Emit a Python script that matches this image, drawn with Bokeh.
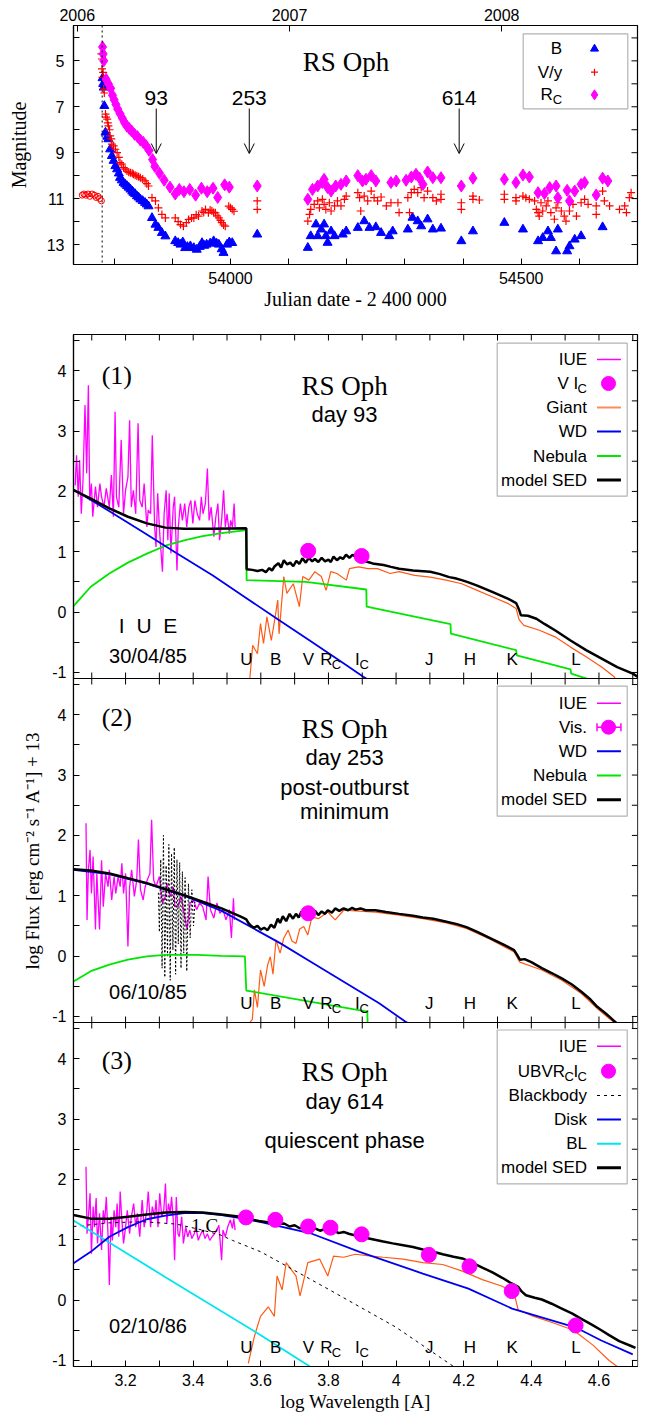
from bokeh.plotting import figure
from bokeh.layouts import column
from bokeh.models import (Range1d, LinearAxis, FixedTicker, PrintfTickFormatter, CustomJSTickFormatter, Span,
                          Label, Arrow, OpenHead, BoxAnnotation, Whisker, TeeHead, ColumnDataSource)
from bokeh.embed import file_html
from bokeh.resources import INLINE

SANS = "Liberation Sans"
SERIF = "Liberation Serif"
MAG = "#ff00ff"
ORANGE = "#ff5a14"
BLUE = "#0000f0"
GREEN = "#00e600"
CYAN = "#00e5ee"

# ------------------------------------------------------------------ light curve
T0 = 53779.3                      # outburst, JD - 2400000
ARROW_DAYS = [93, 253, 614]
YEARS = [2006, 2007, 2008]
YEAR0_JD = 53736.5                # 2006 Jan 1
V_PRE = [(53745, 10.85), (53748, 10.8), (53751, 10.85), (53755, 10.8), (53758, 10.9), (53762, 10.8),
         (53766, 10.85), (53769, 10.95), (53772, 10.9), (53775, 11.0), (53778, 11.1)]
B_LC = [(53780, 5.75), (53781, 6.0), (53782, 6.16), (53783, 6.96), (53785, 8.12), (53788, 8.3), (53790, 8.41),
        (53793, 8.85), (53796, 9.14), (53799, 9.35), (53802, 9.58), (53805, 9.72), (53808, 9.9), (53810, 10.09),
        (53813, 10.2), (53816, 10.31), (53819, 10.38), (53822, 10.45), (53825, 10.52), (53828, 10.6),
        (53831, 10.68), (53833, 10.74), (53836, 10.8), (53839, 10.89), (53842, 10.95), (53845, 11.03),
        (53849, 11.1), (53853, 11.18), (53856, 11.25), (53859, 11.33), (53865, 11.84), (53871, 12.13),
        (53876, 12.27), (53882, 12.49), (53888, 12.64), (53905, 12.85), (53910, 12.93), (53914, 13.0),
        (53918, 12.9), (53922, 13.15), (53926, 13.1), (53931, 13.07), (53937, 13.15), (53942, 13.22),
        (53947, 13.1), (53951, 12.93), (53955, 13.05), (53959, 13.0), (53965, 12.95), (53971, 12.85),
        (53976, 12.95), (53980, 13.0), (53985, 13.2), (53988, 13.36), (53994, 13.0), (53998, 12.9),
        (54003, 12.93), (54046, 12.56),
        (54133, 13.14), (54138, 12.63), (54147, 12.12), (54150, 12.63), (54156, 12.34), (54161, 12.12),
        (54164, 12.63), (54167, 12.92), (54173, 12.42), (54179, 12.63), (54193, 12.56), (54199, 12.42),
        (54219, 12.27), (54230, 11.98), (54239, 12.27), (54250, 12.24), (54259, 12.49), (54273, 12.63),
        (54279, 12.42), (54305, 12.34), (54313, 11.83), (54322, 11.98), (54328, 12.2), (54339, 11.9),
        (54348, 12.34), (54362, 12.3), (54397, 12.85), (54417, 12.42), (54471, 12.05), (54503, 12.34),
        (54529, 12.85), (54537, 12.71), (54546, 12.42), (54551, 12.71), (54560, 13.29), (54563, 12.34),
        (54579, 13.29), (54583, 13.07), (54592, 12.78), (54603, 12.63), (54640, 12.24)]
V_LC = [(53778, 4.7), (53779, 4.92), (53779, 5.35), (53780, 5.72), (53781, 5.5), (53782, 6.23), (53783, 6.4),
        (53785, 7.32), (53786, 7.45), (53788, 7.54), (53789, 7.7), (53790, 7.83), (53792, 8.0), (53793, 8.27),
        (53795, 8.4), (53796, 8.63), (53799, 8.7), (53802, 8.85), (53805, 9.0), (53808, 9.2), (53810, 9.43),
        (53813, 9.5), (53816, 9.65), (53819, 9.72), (53822, 9.8), (53825, 9.85), (53828, 9.87), (53831, 9.9),
        (53833, 9.94), (53836, 9.98), (53839, 10.01), (53842, 10.05), (53845, 10.09), (53849, 10.15),
        (53853, 10.23), (53856, 10.35), (53859, 10.45), (53865, 10.96), (53871, 11.1), (53876, 11.4),
        (53882, 11.69), (53888, 11.84), (53905, 11.84), (53910, 12.0), (53914, 12.13), (53919, 12.2),
        (53924, 12.05), (53928, 11.91), (53933, 11.85), (53937, 11.84), (53941, 11.7), (53945, 11.76),
        (53951, 11.54), (53954, 11.6), (53957, 11.47), (53962, 11.62), (53965, 11.5), (53968, 11.54),
        (53971, 11.6), (53974, 11.62), (53977, 11.75), (53980, 11.84), (53983, 11.95), (53985, 12.05),
        (53988, 12.15), (53991, 12.2), (53997, 11.33), (54000, 11.4), (54003, 11.47), (54006, 11.55),
        (54046, 11.1), (54046, 11.47),
        (54133, 11.98), (54136, 11.69), (54138, 11.47), (54144, 11.25), (54150, 11.1), (54153, 11.4),
        (54158, 11.03), (54161, 11.25), (54164, 11.47), (54170, 11.18), (54173, 11.54), (54179, 11.32),
        (54184, 11.1), (54190, 11.32), (54196, 11.03), (54199, 10.89), (54219, 10.74), (54222, 10.96),
        (54224, 11.54), (54230, 10.89), (54236, 11.1), (54242, 10.67), (54247, 10.96), (54253, 11.1),
        (54259, 10.93), (54268, 11.32), (54276, 11.18), (54288, 11.18), (54290, 11.61), (54305, 10.96),
        (54308, 11.61), (54311, 10.74), (54316, 10.6), (54322, 10.74), (54328, 10.52), (54333, 10.96),
        (54339, 10.67), (54348, 10.96), (54354, 11.1), (54362, 10.81), (54362, 11.03), (54397, 11.18),
        (54397, 11.47), (54417, 10.89), (54417, 11.03), (54428, 11.06), (54471, 10.81), (54471, 11.03),
        (54491, 10.96), (54491, 11.1), (54503, 10.89), (54508, 10.96), (54514, 11.03), (54523, 11.1),
        (54526, 11.47), (54529, 11.61), (54531, 11.76), (54534, 11.18), (54537, 11.54), (54543, 11.32),
        (54546, 11.1), (54551, 11.61), (54557, 11.9), (54560, 11.4), (54563, 11.18), (54569, 11.54),
        (54574, 11.76), (54577, 11.98), (54583, 11.54), (54589, 11.25), (54595, 11.76), (54603, 11.18),
        (54609, 11.03), (54615, 11.25), (54629, 11.32), (54629, 11.69), (54640, 10.67), (54643, 11.1),
        (54652, 11.32), (54669, 11.47), (54678, 11.32), (54681, 11.61), (54686, 10.96), (54689, 10.74)]
R_LC = [(53780, 4.4), (53781, 4.7), (53782, 5.0), (53786, 5.8), (53790, 6.0), (53794, 6.2), (53797, 6.5),
        (53800, 6.7), (53803, 6.9), (53806, 7.1), (53810, 7.3), (53814, 7.5), (53818, 7.7), (53822, 7.85),
        (53826, 7.95), (53830, 8.05), (53835, 8.2), (53840, 8.3), (53845, 8.45), (53850, 8.55), (53855, 8.7),
        (53860, 8.9), (53866, 9.3), (53870, 9.6), (53878, 9.9), (53886, 10.2), (53896, 10.5), (53905, 10.8),
        (53912, 10.6), (53920, 10.7), (53930, 10.6), (53940, 10.85), (53950, 10.55), (53960, 10.7),
        (53970, 10.55), (53978, 10.95), (53990, 10.4), (53998, 10.5), (54046, 10.45),
        (54133, 11.03), (54141, 10.6), (54150, 10.45), (54158, 10.3), (54161, 10.16), (54167, 10.52),
        (54173, 10.67), (54181, 10.45), (54190, 10.38), (54199, 10.23), (54219, 10.0), (54227, 10.23),
        (54233, 10.16), (54242, 10.0), (54250, 10.23), (54276, 10.3), (54285, 10.23), (54302, 10.2),
        (54311, 10.06), (54319, 9.94), (54325, 10.1), (54331, 10.38), (54339, 9.84), (54348, 10.09),
        (54362, 10.09), (54397, 10.45), (54417, 10.11), (54471, 10.16), (54491, 10.3), (54503, 9.97),
        (54514, 10.06), (54529, 10.74), (54540, 10.78), (54549, 10.52), (54560, 10.45), (54563, 10.96),
        (54579, 10.64), (54583, 11.1), (54592, 10.67), (54603, 10.38), (54609, 10.3), (54629, 10.84),
        (54640, 10.11), (54649, 10.23)]

# ------------------------------------------------------------------ SED data (log lambda, log F + 13)
IUE1 = [(3.051, 2.1), (3.055, 2.6), (3.060, 1.91), (3.064, 2.52), (3.069, 1.63), (3.074, 2.16), (3.080, 3.43),
        (3.085, 2.3), (3.090, 3.76), (3.094, 1.85), (3.099, 2.13), (3.103, 1.58), (3.111, 2.08), (3.117, 1.74),
        (3.124, 2.13), (3.129, 1.91), (3.136, 1.74), (3.143, 2.05), (3.152, 1.74), (3.158, 2.27), (3.164, 1.58),
        (3.169, 3.32), (3.173, 1.91), (3.180, 1.74), (3.187, 2.85), (3.194, 1.63), (3.200, 2.02), (3.207, 2.24),
        (3.212, 3.18), (3.217, 1.74), (3.223, 2.02), (3.230, 1.63), (3.237, 3.13), (3.242, 1.85), (3.249, 1.74),
        (3.255, 2.13), (3.263, 1.41), (3.267, 1.69), (3.274, 1.63), (3.279, 2.93), (3.286, 1.41), (3.290, 1.08),
        (3.295, 1.97), (3.301, 1.30), (3.309, 0.67), (3.314, 1.63), (3.320, 2.02), (3.325, 1.19), (3.329, 1.97),
        (3.334, 0.97), (3.341, 1.74), (3.345, 1.91), (3.352, 0.69), (3.356, 1.41), (3.362, 1.80), (3.368, 1.52),
        (3.375, 1.80), (3.381, 1.41), (3.387, 1.74), (3.393, 1.85), (3.399, 1.47), (3.405, 1.85), (3.412, 1.63),
        (3.419, 1.52), (3.424, 1.91), (3.429, 1.63), (3.436, 1.80), (3.442, 2.38), (3.447, 1.52), (3.453, 1.74),
        (3.461, 1.25), (3.467, 1.58), (3.473, 1.80), (3.478, 1.19), (3.484, 1.52), (3.490, 2.02), (3.495, 1.41),
        (3.500, 1.63), (3.507, 1.30), (3.511, 1.52), (3.516, 1.41), (3.521, 1.80), (3.524, 1.41)]
SED1 = [(3.046, 2.02), (3.097, 1.88), (3.152, 1.72), (3.207, 1.58), (3.263, 1.47), (3.318, 1.40), (3.373, 1.38),
        (3.456, 1.38), (3.557, 1.39), (3.558, 0.71), (3.575, 0.70), (3.590, 0.68), (3.604, 0.70), (3.615, 0.66),
        (3.625, 0.73), (3.633, 0.69), (3.641, 0.76), (3.652, 0.81), (3.660, 0.74), (3.668, 0.86), (3.678, 0.79),
        (3.687, 0.82), (3.696, 0.76), (3.705, 0.85), (3.714, 0.80), (3.723, 0.89), (3.733, 0.82), (3.742, 0.90),
        (3.752, 0.84), (3.760, 0.88), (3.770, 0.83), (3.780, 0.90), (3.790, 0.84), (3.800, 0.87), (3.807, 0.83),
        (3.815, 0.92), (3.825, 0.86), (3.835, 0.91), (3.843, 0.88), (3.852, 0.95), (3.862, 0.90), (3.871, 0.95),
        (3.880, 0.92), (3.890, 0.87), (3.900, 0.86), (3.917, 0.83), (3.935, 0.80), (3.963, 0.78), (3.985, 0.75),
        (4.009, 0.72), (4.050, 0.69), (4.101, 0.67), (4.130, 0.63), (4.157, 0.58), (4.175, 0.56), (4.194, 0.53),
        (4.210, 0.50), (4.240, 0.44), (4.286, 0.33), (4.332, 0.22), (4.355, 0.15), (4.360, 0.09), (4.365, 0.02),
        (4.369, -0.05), (4.390, -0.06), (4.415, -0.11), (4.440, -0.20), (4.470, -0.30), (4.516, -0.47),
        (4.562, -0.63), (4.608, -0.77), (4.654, -0.91), (4.700, -1.02), (4.714, -1.07)]
GIANT1 = [(3.560, -1.3), (3.567, -1.13), (3.576, -0.55), (3.590, -0.69), (3.599, -0.19), (3.608, -0.52),
          (3.618, -0.08), (3.631, -0.47), (3.641, -0.13), (3.650, 0.20), (3.654, -0.36), (3.668, 0.59),
          (3.677, 0.31), (3.696, 0.47), (3.714, 0.09), (3.724, 0.59), (3.742, 0.53), (3.760, 0.67),
          (3.779, 0.59), (3.793, 0.36), (3.807, 0.67), (3.825, 0.64), (3.853, 0.53), (3.862, 0.72),
          (3.889, 0.75), (3.917, 0.72), (3.945, 0.72), (3.982, 0.64), (4.009, 0.67), (4.055, 0.61),
          (4.101, 0.58), (4.148, 0.53), (4.194, 0.47), (4.240, 0.36), (4.286, 0.25), (4.332, 0.14),
          (4.355, 0.06), (4.364, -0.13), (4.378, -0.22), (4.424, -0.30), (4.470, -0.41), (4.516, -0.58),
          (4.562, -0.74), (4.608, -0.91), (4.645, -1.07), (4.654, -1.16)]
WD1 = [(3.046, 2.03), (3.15, 1.68), (3.25, 1.33), (3.35, 0.98), (3.457, 0.61), (3.55, 0.26), (3.65, -0.12),
       (3.75, -0.49), (3.85, -0.87), (3.903, -1.07), (3.912, -1.10)]
NEB1 = [(3.046, 0.10), (3.097, 0.42), (3.152, 0.64), (3.207, 0.82), (3.263, 0.97), (3.318, 1.10), (3.373, 1.19),
        (3.428, 1.26), (3.484, 1.31), (3.557, 1.36), (3.558, 0.53), (3.733, 0.50), (3.912, 0.375), (3.913, 0.09),
        (4.161, -0.20), (4.162, -0.355), (4.355, -0.63), (4.357, -0.715), (4.516, -0.95), (4.518, -1.02),
        (4.58, -1.13)]
PHOT1_LW = [3.740, 3.898]
PHOT1_F = [1.015, 0.93]

IUE2 = [(3.083, 2.20), (3.086, 0.60), (3.090, 1.43), (3.095, 1.76), (3.099, 1.04), (3.104, 1.65), (3.111, 0.44),
        (3.115, 1.37), (3.123, 0.44), (3.129, 1.59), (3.134, 0.82), (3.141, 1.37), (3.148, 1.15), (3.152, 1.43),
        (3.159, 0.93), (3.166, 1.32), (3.171, 1.04), (3.178, 1.32), (3.184, 1.15), (3.189, 1.54), (3.194, 1.04),
        (3.200, 1.37), (3.207, 0.16), (3.212, 1.15), (3.218, 1.43), (3.226, 0.99), (3.233, 1.26), (3.238, 1.93),
        (3.244, 1.10), (3.252, 0.93), (3.258, 1.15), (3.264, 1.26), (3.272, 1.37), (3.277, 2.26), (3.283, 1.26),
        (3.290, 1.15), (3.300, 1.32), (3.309, 0.88), (3.318, 0.99), (3.322, 1.21), (3.332, 0.99), (3.341, 1.15),
        (3.346, 0.82), (3.355, 0.82), (3.364, 0.99), (3.382, 0.44), (3.391, 0.88), (3.401, 0.93), (3.410, 0.77),
        (3.419, 0.88), (3.428, 0.82), (3.438, 0.60), (3.444, 1.32), (3.451, 0.77), (3.461, 0.63), (3.470, 0.88),
        (3.479, 0.71), (3.488, 0.77), (3.497, 0.60), (3.507, 0.77), (3.513, 0.30), (3.519, 0.96), (3.522, 0.60)]
IUE2B = [(3.297, 1.05), (3.300, 0.40), (3.304, 1.60), (3.308, -0.20), (3.312, 2.00), (3.316, -0.35),
         (3.320, 1.50), (3.324, 0.0), (3.328, 1.85), (3.332, -0.40), (3.336, 1.70), (3.340, 0.10), (3.344, 1.80),
         (3.348, -0.30), (3.352, 1.60), (3.356, 0.20), (3.360, 1.55), (3.364, -0.20), (3.368, 1.40),
         (3.372, 0.05), (3.376, 1.30), (3.381, -0.25), (3.386, 1.20), (3.391, 0.30), (3.396, 1.10),
         (3.401, 0.50), (3.405, 0.90)]
SED2 = [(3.046, 1.44), (3.097, 1.42), (3.152, 1.37), (3.207, 1.29), (3.263, 1.21), (3.318, 1.11), (3.373, 1.01),
        (3.428, 0.90), (3.484, 0.79), (3.539, 0.66), (3.550, 0.63), (3.557, 0.61), (3.563, 0.55), (3.571, 0.50),
        (3.580, 0.47), (3.590, 0.50), (3.600, 0.44), (3.610, 0.47), (3.620, 0.43), (3.630, 0.52), (3.640, 0.47),
        (3.650, 0.62), (3.657, 0.55), (3.665, 0.66), (3.675, 0.58), (3.685, 0.70), (3.695, 0.62), (3.704, 0.70),
        (3.712, 0.64), (3.720, 0.74), (3.730, 0.66), (3.740, 0.72), (3.751, 0.69), (3.760, 0.75), (3.770, 0.68),
        (3.780, 0.74), (3.790, 0.70), (3.798, 0.76), (3.810, 0.72), (3.820, 0.79), (3.832, 0.75), (3.845, 0.79),
        (3.858, 0.76), (3.870, 0.80), (3.880, 0.77), (3.895, 0.79), (3.910, 0.76), (3.939, 0.76), (3.970, 0.73),
        (4.009, 0.70), (4.050, 0.67), (4.079, 0.64), (4.110, 0.62), (4.149, 0.57), (4.180, 0.53), (4.208, 0.48),
        (4.240, 0.40), (4.278, 0.30), (4.315, 0.20), (4.349, 0.10), (4.358, 0.02), (4.366, -0.06), (4.380, -0.05),
        (4.400, -0.10), (4.431, -0.20), (4.460, -0.28), (4.490, -0.37), (4.520, -0.47), (4.548, -0.59),
        (4.575, -0.72), (4.595, -0.84), (4.620, -0.95), (4.642, -1.06), (4.660, -1.15)]
GIANT2 = [(3.560, -1.15), (3.575, -1.05), (3.581, -0.56), (3.590, -0.85), (3.599, -0.23), (3.610, -0.50),
          (3.620, -0.15), (3.628, -0.01), (3.636, -0.30), (3.645, 0.27), (3.657, 0.05), (3.668, 0.30),
          (3.681, 0.43), (3.692, 0.25), (3.704, 0.21), (3.715, 0.45), (3.727, 0.49), (3.739, 0.35),
          (3.751, 0.65), (3.770, 0.62), (3.798, 0.73), (3.820, 0.60), (3.845, 0.76), (3.880, 0.75),
          (3.939, 0.73), (4.009, 0.68), (4.079, 0.62), (4.149, 0.55), (4.208, 0.46), (4.278, 0.28),
          (4.349, 0.07), (4.366, -0.10), (4.431, -0.23), (4.490, -0.40), (4.548, -0.62), (4.595, -0.87),
          (4.642, -1.09)]
WD2 = [(3.046, 1.43), (3.152, 1.36), (3.263, 1.20), (3.373, 1.00), (3.484, 0.75), (3.594, 0.41), (3.657, 0.215),
       (3.75, -0.10), (3.85, -0.44), (3.95, -0.78), (4.026, -1.08), (4.035, -1.11)]
NEB2 = [(3.046, -0.42), (3.097, -0.25), (3.152, -0.14), (3.207, -0.06), (3.263, -0.005), (3.318, 0.02),
        (3.41, 0.02), (3.484, 0.005), (3.553, -0.005), (3.557, -0.57), (3.915, -0.92), (3.916, -1.15)]
VIS2_LW = [3.740]
VIS2_F = [0.71]
VIS2_ERR = [0.19]

IUE3 = [(3.083, 2.21), (3.086, 1.10), (3.090, 1.38), (3.095, 1.77), (3.099, 0.77), (3.104, 1.55), (3.108, 1.21),
        (3.113, 1.69), (3.117, 0.94), (3.123, 1.44), (3.129, 0.83), (3.134, 1.49), (3.138, 1.27), (3.143, 1.71),
        (3.148, 1.10), (3.152, 0.25), (3.157, 1.38), (3.161, 0.99), (3.166, 1.49), (3.171, 1.21), (3.175, 1.60),
        (3.180, 1.05), (3.184, 1.80), (3.189, 1.33), (3.194, 0.94), (3.200, 1.21), (3.205, 1.49), (3.212, 1.10),
        (3.217, 1.38), (3.224, 1.60), (3.230, 1.21), (3.235, 1.44), (3.242, 1.05), (3.249, 1.66), (3.255, 1.21),
        (3.263, 1.49), (3.267, 1.80), (3.274, 1.21), (3.279, 1.55), (3.286, 1.38), (3.290, 1.66), (3.296, 1.21),
        (3.301, 1.77), (3.307, 1.38), (3.313, 1.49), (3.318, 1.93), (3.322, 1.27), (3.327, 1.60), (3.332, 1.44),
        (3.336, 1.71), (3.341, 1.33), (3.345, 0.66), (3.350, 1.71), (3.355, 1.10), (3.359, 1.05), (3.366, 1.38),
        (3.371, 0.94), (3.378, 1.21), (3.384, 1.05), (3.390, 1.16), (3.396, 1.02), (3.403, 1.10), (3.408, 1.21),
        (3.415, 0.99), (3.421, 1.08), (3.428, 1.16), (3.435, 1.02), (3.442, 1.10), (3.449, 0.99), (3.456, 1.05),
        (3.463, 1.10), (3.470, 1.16), (3.476, 1.24), (3.484, 0.66), (3.488, 1.16), (3.495, 1.05), (3.502, 1.21),
        (3.510, 1.33), (3.516, 1.19), (3.520, 1.35), (3.524, 1.16)]
SED3 = [(3.046, 1.41), (3.097, 1.35), (3.152, 1.35), (3.207, 1.38), (3.263, 1.42), (3.318, 1.45), (3.373, 1.46),
        (3.428, 1.45), (3.484, 1.42), (3.539, 1.38), (3.594, 1.31), (3.620, 1.29), (3.640, 1.31), (3.655, 1.26),
        (3.669, 1.27), (3.685, 1.22), (3.700, 1.24), (3.715, 1.19), (3.727, 1.21), (3.745, 1.17), (3.760, 1.19),
        (3.775, 1.15), (3.786, 1.17), (3.800, 1.13), (3.815, 1.16), (3.830, 1.11), (3.845, 1.13), (3.860, 1.10),
        (3.880, 1.07), (3.903, 1.04), (3.930, 1.01), (3.962, 0.97), (3.990, 0.94), (4.021, 0.91), (4.050, 0.88),
        (4.079, 0.84), (4.110, 0.80), (4.138, 0.76), (4.170, 0.72), (4.196, 0.69), (4.225, 0.62), (4.255, 0.54),
        (4.285, 0.46), (4.314, 0.37), (4.340, 0.28), (4.361, 0.22), (4.372, 0.14), (4.384, 0.08), (4.410, 0.04),
        (4.431, 0.01), (4.460, -0.06), (4.490, -0.14), (4.520, -0.22), (4.548, -0.31), (4.580, -0.41),
        (4.607, -0.50), (4.630, -0.58), (4.660, -0.68), (4.695, -0.76), (4.708, -0.79)]
GIANT3 = [(3.563, -1.05), (3.581, -0.6), (3.599, -0.27), (3.622, -0.11), (3.640, -0.27), (3.648, 0.4),
          (3.663, 0.17), (3.675, 0.62), (3.704, 0.4), (3.716, 0.07), (3.739, 0.62), (3.774, 0.68), (3.798, 0.4),
          (3.815, 0.73), (3.845, 0.71), (3.880, 0.76), (3.927, 0.73), (3.962, 0.71), (4.021, 0.68), (4.079, 0.62),
          (4.138, 0.59), (4.196, 0.48), (4.255, 0.34), (4.314, 0.23), (4.349, 0.12), (4.361, -0.16),
          (4.407, -0.27), (4.466, -0.38), (4.525, -0.5), (4.583, -0.75), (4.630, -1.0), (4.654, -1.1)]
DISK3 = [(3.046, 0.61), (3.097, 0.80), (3.152, 1.05), (3.207, 1.21), (3.263, 1.34), (3.318, 1.40), (3.373, 1.44),
         (3.428, 1.44), (3.484, 1.41), (3.539, 1.36), (3.594, 1.30), (3.751, 1.10), (3.892, 0.80), (4.079, 0.44),
         (4.214, 0.19), (4.343, -0.14), (4.530, -0.45), (4.607, -0.67), (4.70, -0.90)]
BB3 = [(3.046, 1.22), (3.15, 1.28), (3.25, 1.30), (3.35, 1.26), (3.42, 1.17), (3.48, 1.08), (3.516, 0.99),
       (3.6, 0.80), (3.8, 0.18), (4.0, -0.45), (4.17, -1.1)]
BL3 = [(3.046, 1.32), (3.318, 0.38), (3.594, -0.56), (3.745, -1.1)]
PHOT3_LW = [3.556, 3.643, 3.740, 3.806, 3.898, 4.097, 4.217, 4.342, 4.531]
PHOT3_F = [1.37, 1.33, 1.22, 1.20, 1.09, 0.75, 0.56, 0.15, -0.42]

BANDS = [("U", ""), ("B", ""), ("V", ""), ("R", "C"), ("I", "C"), ("J", ""), ("H", ""), ("K", ""), ("L", "")]
BAND_LW = [3.556, 3.643, 3.740, 3.806, 3.898, 4.097, 4.217, 4.342, 4.531]

XT_MAJOR = [3.2, 3.4, 3.6, 3.8, 4.0, 4.2, 4.4, 4.6]
XT_MINOR = [3.1, 3.3, 3.5, 3.7, 3.9, 4.1, 4.3, 4.5, 4.7]
YT_MAJOR = [-1, 0, 1, 2, 3, 4]
YT_MINOR = [-0.5, 0.5, 1.5, 2.5, 3.5, 4.5]
MAG_MAJOR = [5, 7, 9, 11, 13]
MAG_MINOR = [4, 6, 8, 10, 12]
JD_MAJOR = [54000, 54500]
JD_MINOR = [53800, 53900, 54100, 54200, 54300, 54400, 54600, 54700]


def xs(pairs):
    return [a for a, b in pairs]


def ys(pairs):
    return [b for a, b in pairs]


# ------------------------------------------------------------------ helpers
class Frame:
    def __init__(self, p, x0, x1, px0, px1, ytop, ybot, py0, py1, rn="default"):
        self.p, self.rn = p, rn
        self.x0, self.x1, self.px0, self.px1 = x0, x1, px0, px1
        self.ytop, self.ybot, self.py0, self.py1 = ytop, ybot, py0, py1

    def x(self, px):
        return self.x0 + (px - self.px0) * (self.x1 - self.x0) / (self.px1 - self.px0)

    def y(self, py):
        return self.ytop + (py - self.py0) * (self.ybot - self.ytop) / (self.py1 - self.py0)

    def px(self, x):
        return self.px0 + (x - self.x0) * (self.px1 - self.px0) / (self.x1 - self.x0)


AW = {'U': 722, 'B': 667, 'V': 667, 'R': 722, 'I': 278, 'C': 722, ' ': 278, '/': 278, 'y': 500,
      'J': 500, 'H': 722, 'K': 667, 'L': 556}


def tw(s, size):
    return sum(AW.get(c, 556) for c in s) * size / 1000.0


def label(fr, px, py, text, size, font=SANS, align="center"):
    fr.p.add_layout(Label(x=fr.x(px), y=fr.y(py), text=text, text_font=font, y_range_name=fr.rn,
                          text_font_size="%dpx" % size, text_align=align,
                          text_baseline="middle", text_color="black"))


def rich(fr, px, py, parts, size=16, sub=12, align="right"):
    """text made of normal and subscript pieces; right-aligned pieces are laid from the right edge"""
    if align == "right":
        x = px
        for t, s in reversed(parts):
            fs = sub if s else size
            label(fr, x, py + (5 if s else 0), t, fs, align="right")
            x -= tw(t, fs)
        return
    total = sum(tw(t, sub if s else size) for t, s in parts)
    x = px - total / 2.0
    for t, s in parts:
        fs = sub if s else size
        label(fr, x, py + (5 if s else 0), t, fs, align="left")
        x += tw(t, fs)


def style_axis(ax, size=16):
    ax.major_tick_in = 6
    ax.major_tick_out = 0
    ax.minor_tick_in = 6
    ax.minor_tick_out = 0
    ax.major_tick_line_color = "black"
    ax.minor_tick_line_color = "black"
    ax.axis_line_color = "black"
    ax.axis_line_width = 1.2
    ax.major_label_text_font = SANS
    ax.major_label_text_font_size = "%dpx" % size
    ax.major_label_text_color = "black"
    ax.axis_label_text_font = SERIF
    ax.axis_label_text_font_style = "normal"
    ax.axis_label_text_color = "black"


def add_axis(p, where, ticks, minor, formatter, **kw):
    ax = LinearAxis(ticker=FixedTicker(ticks=ticks, minor_ticks=minor), formatter=formatter, **kw)
    style_axis(ax)
    p.add_layout(ax, where)
    return ax


def base_fig(h, xr, yr, left, right, top, bottom):
    p = figure(width=667, height=h, x_range=xr, y_range=yr, output_backend="svg", toolbar_location=None,
               x_axis_location=None, y_axis_location=None, min_border_left=left, min_border_right=right,
               min_border_top=top, min_border_bottom=bottom)
    p.xgrid.visible = False
    p.ygrid.visible = False
    p.outline_line_color = "black"
    p.outline_line_width = 1.2
    p.background_fill_color = "white"
    p.border_fill_color = "white"
    return p


TICK = 6


def ticks_along_x(fr, xvals, py, down):
    y0 = fr.y(py)
    y1 = fr.y(py + TICK if down else py - TICK)
    n = len(xvals)
    fr.p.segment(x0=xvals, y0=[y0] * n, x1=xvals, y1=[y1] * n, line_color="black", line_width=1,
                 y_range_name=fr.rn)


def ticks_along_y(fr, yvals, px, leftward):
    x0 = fr.x(px)
    x1 = fr.x(px - TICK if leftward else px + TICK)
    n = len(yvals)
    fr.p.segment(x0=[x0] * n, y0=yvals, x1=[x1] * n, y1=yvals, line_color="black", line_width=1,
                 y_range_name=fr.rn)


# ------------------------------------------------------------------ top panel: light curve
JD0, JD1 = 53730, 54700
p0 = base_fig(320, Range1d(JD0, JD1), Range1d(13.87, 3.46), 73, 30, 25, 56)
f0 = Frame(p0, JD0, JD1, 73, 637, 3.46, 13.87, 25, 264)
p0.extra_x_ranges = {"yr": Range1d(2006 + (JD0 - YEAR0_JD) / 365.0, 2006 + (JD1 - YEAR0_JD) / 365.0)}
ab = add_axis(p0, "below", JD_MAJOR, JD_MINOR, PrintfTickFormatter(format="%d"),
              axis_label="Julian date - 2 400 000")
ab.major_label_standoff = 7
ab.axis_label_standoff = 1
ab.axis_label_text_font_size = "20px"
al = add_axis(p0, "left", MAG_MAJOR, MAG_MINOR, PrintfTickFormatter(format="%d"), axis_label="Magnitude")
al.major_label_standoff = 9
al.axis_label_standoff = 14
al.axis_label_text_font_size = "20px"
aa = add_axis(p0, "above", YEARS, [], PrintfTickFormatter(format="%d"), x_range_name="yr")
aa.major_label_standoff = 5

p0.add_layout(Span(location=T0, dimension="height", line_color="black", line_dash="2 3", line_width=1))
p0.scatter(xs(V_PRE), ys(V_PRE), marker="circle", size=6, fill_color=None, line_color="red", line_width=1)
p0.scatter(xs(B_LC), ys(B_LC), marker="triangle", size=9, color="blue")
p0.scatter(xs(V_LC), ys(V_LC), marker="cross", size=8, line_color="red", line_width=1.2)
p0.scatter(xs(R_LC), ys(R_LC), marker="diamond", size=12, color=MAG)
for d in ARROW_DAYS:
    p0.add_layout(Arrow(end=OpenHead(size=10, line_width=1, line_color="black"), x_start=T0 + d,
                        y_start=f0.y(108), x_end=T0 + d, y_end=f0.y(153), line_width=1, line_color="black"))
    label(f0, f0.px(T0 + d), 97.7, str(d), 21)
label(f0, 345.5, 61.7, "RS Oph", 27, font=SERIF)
# legend
p0.add_layout(BoxAnnotation(left=f0.x(522.7), right=f0.x(627.3), top=f0.y(33.3), bottom=f0.y(108.3),
                            fill_alpha=0, line_color="black", line_width=1.2))
rich(f0, 561.7, 48.3, [("B", 0)], size=17)
rich(f0, 561.7, 71.7, [("V/y", 0)], size=17)
rich(f0, 561.7, 94.3, [("R", 0), ("C", 1)], size=17, sub=13)
p0.scatter([f0.x(594)], [f0.y(48.3)], marker="triangle", size=8, color="blue")
p0.scatter([f0.x(594)], [f0.y(71.7)], marker="cross", size=7, line_color="red", line_width=1.2)
p0.scatter([f0.x(594)], [f0.y(94.3)], marker="diamond", size=10, color=MAG)
ticks_along_y(f0, MAG_MAJOR + MAG_MINOR, 637, True)

# ------------------------------------------------------------------ SED panels (one figure, three y ranges)
LX0, LX1 = 3.046, 4.714
YLO, YHI = -1.1, 4.6
SPAN = YHI - YLO
PANEL_PX = [(334, 678), (678, 1022), (1022, 1366)]
OFFS = [2 * SPAN, SPAN, 0.0]          # global = local + offset

ps = base_fig(1094, Range1d(LX0, LX1), Range1d(YLO, YHI + 2 * SPAN), 52, 12, 14, 48)
ps.extra_y_ranges = {"p%d" % (k + 1): Range1d(YLO - OFFS[k], YHI + 2 * SPAN - OFFS[k]) for k in range(3)}
fg = Frame(ps, LX0, LX1, 52, 655, YHI + 2 * SPAN, YLO, 334, 1366)
frames = [Frame(ps, LX0, LX1, 52, 655, YHI, YLO, a, b, rn="p%d" % (k + 1)) for k, (a, b) in enumerate(PANEL_PX)]
f1, f2, f3 = frames

yfmt = CustomJSTickFormatter(code="""
const v = tick > 10.05 ? tick - 11.4 : (tick > 4.35 ? tick - 5.7 : tick);
return String(Math.round(v * 10) / 10);
""")
ay = add_axis(ps, "left", [v + o for o in OFFS for v in YT_MAJOR], [v + o for o in OFFS for v in YT_MINOR],
              yfmt, axis_label="log Flux [erg cm\u207b\u00b2 s\u207b\u00b9 A\u207b\u00b9] + 13")
ay.major_label_standoff = 7
ay.axis_label_standoff = 6
ay.axis_label_text_font_size = "19px"
ax_ = add_axis(ps, "below", XT_MAJOR, XT_MINOR, PrintfTickFormatter(format="%g"), axis_label="log Wavelength [A]")
ax_.major_label_standoff = 7
ax_.axis_label_standoff = 2
ax_.axis_label_text_font_size = "19px"


def curve(fr, pairs, color, w, dash="solid"):
    fr.p.line(xs(pairs), ys(pairs), line_color=color, line_width=w, line_dash=dash, y_range_name=fr.rn)


def mask_below(fr):
    # white cover over the panels below fr, so that curves leaving fr do not show there
    fg.p.quad(left=[LX0], right=[LX1], bottom=[fg.y(1366)], top=[fg.y(fr.py1)], fill_color="white",
              line_color=None)


def legend(fr, top, bottom, ys_, entries):
    p = fr.p
    p.add_layout(BoxAnnotation(left=fr.x(505), right=fr.x(644), top=fr.y(top), bottom=fr.y(bottom),
                               fill_alpha=0, line_color="black", line_width=1.2, y_range_name=fr.rn))
    for py, (parts, kind, color, w) in zip(ys_, entries):
        rich(fr, 601, py, parts, size=17, sub=13)
        yy = fr.y(py)
        if kind in ("line", "dash"):
            p.segment(x0=[fr.x(611.7)], y0=[yy], x1=[fr.x(637.3)], y1=[yy], line_color=color, line_width=w,
                      line_dash=("3 4" if kind == "dash" else "solid"), y_range_name=fr.rn)
        elif kind == "circle":
            p.scatter([fr.x(624)], [yy], marker="circle", size=14, color=color, y_range_name=fr.rn)
        elif kind == "errcircle":
            p.segment(x0=[fr.x(611.7)], y0=[yy], x1=[fr.x(637.3)], y1=[yy], line_color=color, line_width=1.5,
                      y_range_name=fr.rn)
            for ex in (611.7, 637.3):
                p.segment(x0=[fr.x(ex)], y0=[fr.y(py - 4)], x1=[fr.x(ex)], y1=[fr.y(py + 4)],
                          line_color=color, line_width=1.5, y_range_name=fr.rn)
            p.scatter([fr.x(624)], [yy], marker="circle", size=14, color=color, y_range_name=fr.rn)


def band_labels(fr):
    for (main, sub), lw in zip(BANDS, BAND_LW):
        parts = [(main, 0)] + ([(sub, 1)] if sub else [])
        rich(fr, fr.px(lw), fr.py0 + 325, parts, size=17, sub=13, align="center")


# panel 1
curve(f1, IUE1, MAG, 1.3)
curve(f1, GIANT1, ORANGE, 1.2)
curve(f1, NEB1, GREEN, 1.8)
curve(f1, WD1, BLUE, 1.8)
curve(f1, SED1, "black", 2.5)
ps.scatter(PHOT1_LW, PHOT1_F, marker="circle", size=15, color=MAG, y_range_name="p1")
mask_below(f1)
label(f1, 98.3, 375, "(1)", 26, font=SERIF)
label(f1, 341.8, 385, "RS Oph", 27, font=SERIF)
label(f1, 341.8, 414, "day 93", 22)
label(f1, 131.7, 625, "I\u00a0\u00a0U\u00a0\u00a0E", 21)
label(f1, 131.7, 655, "30/04/85", 20)
band_labels(f1)
legend(f1, 342.7, 495.7, [359, 383, 407, 431, 455.5, 479.5],
       [([("IUE", 0)], "line", MAG, 1.5), ([("V I", 0), ("C", 1)], "circle", MAG, 0),
        ([("Giant", 0)], "line", "#ff8a5a", 2), ([("WD", 0)], "line", BLUE, 2),
        ([("Nebula", 0)], "line", GREEN, 2), ([("model SED", 0)], "line", "black", 3)])

# panel 2
curve(f2, IUE2, MAG, 1.3)
curve(f2, IUE2B, "black", 1, dash="2 2")
curve(f2, GIANT2, ORANGE, 1.2)
curve(f2, NEB2, GREEN, 1.8)
curve(f2, WD2, BLUE, 1.8)
curve(f2, SED2, "black", 2.5)
src = ColumnDataSource(dict(x=VIS2_LW, lo=[f - e for f, e in zip(VIS2_F, VIS2_ERR)],
                            hi=[f + e for f, e in zip(VIS2_F, VIS2_ERR)]))
ps.add_layout(Whisker(source=src, base="x", lower="lo", upper="hi", dimension="height", line_color=MAG,
                      line_width=1.5, y_range_name="p2",
                      upper_head=TeeHead(size=8, line_color=MAG, line_width=1.5),
                      lower_head=TeeHead(size=8, line_color=MAG, line_width=1.5)))
ps.scatter(VIS2_LW, VIS2_F, marker="circle", size=15, color=MAG, y_range_name="p2")
mask_below(f2)
label(f2, 98.3, 716.7, "(2)", 26, font=SERIF)
label(f2, 341.8, 728.3, "RS Oph", 27, font=SERIF)
label(f2, 341.8, 757.3, "day 253", 22)
label(f2, 341.8, 787.3, "post-outburst", 22)
label(f2, 341.8, 811, "minimum", 22)
label(f2, 131.7, 991.7, "06/10/85", 20)
band_labels(f2)
legend(f2, 685.7, 815.7, [702.7, 726.7, 750.7, 775, 799.3],
       [([("IUE", 0)], "line", MAG, 1.5), ([("Vis.", 0)], "errcircle", MAG, 0),
        ([("WD", 0)], "line", BLUE, 2), ([("Nebula", 0)], "line", GREEN, 2),
        ([("model SED", 0)], "line", "black", 3)])

# panel 3
curve(f3, IUE3, MAG, 1.3)
curve(f3, GIANT3, ORANGE, 1.2)
curve(f3, BB3, "black", 1, dash="3 4")
curve(f3, BL3, CYAN, 1.8)
curve(f3, DISK3, BLUE, 1.8)
curve(f3, SED3, "black", 2.5)
ps.scatter(PHOT3_LW, PHOT3_F, marker="circle", size=15, color=MAG, y_range_name="p3")
label(f3, 98.3, 1060, "(3)", 26, font=SERIF)
label(f3, 341.8, 1071.7, "RS Oph", 27, font=SERIF)
label(f3, 341.8, 1101, "day 614", 22)
label(f3, 341.8, 1140, "quiescent phase", 22)
label(f3, 131.7, 1325, "02/10/86", 20)
label(f3, 192.4, 1225, "1.C", 19, font=SERIF)
band_labels(f3)
legend(f3, 1029.5, 1183.3, [1045.7, 1070.7, 1095, 1119, 1143.3, 1167.3],
       [([("IUE", 0)], "line", MAG, 1.5),
        ([("UBVR", 0), ("C", 1), ("I", 0), ("C", 1)], "circle", MAG, 0),
        ([("Blackbody", 0)], "dash", "black", 1), ([("Disk", 0)], "line", BLUE, 2),
        ([("BL", 0)], "line", CYAN, 2), ([("model SED", 0)], "line", "black", 3)])

# panel borders and the tick marks on inner edges / mirrored sides
for loc in (YHI, YHI + SPAN):
    ps.add_layout(Span(location=loc, dimension="width", line_color="black", line_width=1.2))
XT_ALL = XT_MAJOR + XT_MINOR
for k, fr in enumerate(frames):
    ticks_along_x(fr, XT_ALL, fr.py0, True)
    if k < 2:
        ticks_along_x(fr, XT_ALL, fr.py1, False)
    ticks_along_y(fr, YT_MAJOR + YT_MINOR, 655, True)

layout = column(p0, ps, spacing=0)
open("out.html", "w").write(file_html(layout, INLINE))
